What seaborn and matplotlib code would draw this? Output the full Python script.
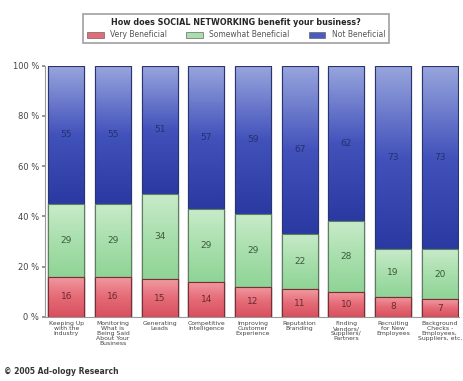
import numpy as np
import pandas as pd
import matplotlib
matplotlib.use("Agg")
import matplotlib.pyplot as plt
from matplotlib.colors import LinearSegmentedColormap
from matplotlib.patches import Patch
import seaborn as sns

categories = [
    "Keeping Up\nwith the\nIndustry",
    "Monitoring\nWhat is\nBeing Said\nAbout Your\nBusiness",
    "Generating\nLeads",
    "Competitive\nIntelligence",
    "Improving\nCustomer\nExperience",
    "Reputation\nBranding",
    "Finding\nVendors/\nSuppliers/\nPartners",
    "Recruiting\nfor New\nEmployees",
    "Background\nChecks -\nEmployees,\nSuppliers, etc.",
]
very = [16, 16, 15, 14, 12, 11, 10, 8, 7]
somewhat = [29, 29, 34, 29, 29, 22, 28, 19, 20]
not_ben = [55, 55, 51, 57, 59, 67, 62, 73, 73]
series_names = ["Very Beneficial", "Somewhat Beneficial", "Not Beneficial"]
y_ticks = [0, 20, 40, 60, 80, 100]
title = "How does SOCIAL NETWORKING benefit your business?"
credit = "\u00a9 2005 Ad-ology Research"

sns.set_theme(style="white")
plt.rcParams["font.family"] = ["DejaVu Sans"]

df = pd.DataFrame({"cat": categories, "very": very, "somewhat": somewhat, "not": not_ben})
df["c1"] = df["very"]
df["c2"] = df["very"] + df["somewhat"]
df["c3"] = df["c2"] + df["not"]

fig = plt.figure(figsize=(4.63, 3.81), dpi=100)
ax = fig.add_axes([0.097, 0.168, 0.895, 0.66])

# gradient colour ramps (bottom -> top) and edge colours per layer
layers = [
    ("c3", "c2", ["#2b3aa2", "#4252bb", "#98a5dd"], "#2a3470", "#25306e"),
    ("c2", "c1", ["#8fd496", "#a9dfad", "#c8ebc9"], "#5d7f5e", "#3d5a3e"),
    ("c1", None, ["#d9505f", "#e56b77", "#f19aa1"], "#7a2f36", "#6a2a30"),
]

width = 0.77
for z, (top_col, low_col, ramp, edge, txt) in enumerate(layers):
    n_before = len(ax.patches)
    sns.barplot(data=df, x="cat", y=top_col, color=ramp[1], width=width,
                edgecolor=edge, linewidth=0.8, saturation=1, ax=ax, zorder=2 + 2 * z)
    cmap = LinearSegmentedColormap.from_list("ramp%d" % z, ramp)
    grad = np.linspace(0, 1, 64).reshape(-1, 1)
    for i, p in enumerate(ax.patches[n_before:]):
        x0 = p.get_x()
        w = p.get_width()
        top = df[top_col].iloc[i]
        low = df[low_col].iloc[i] if low_col else 0
        im = ax.imshow(grad, cmap=cmap, origin="lower", aspect="auto",
                       extent=[x0, x0 + w, low, top], zorder=2 + 2 * z + 0.5)
        im.set_clip_path(p)
        # outline on top of the gradient
        ax.add_patch(plt.Rectangle((x0, 0), w, top, facecolor="none",
                                   edgecolor=edge, linewidth=0.8,
                                   zorder=2 + 2 * z + 0.6))
        seg = top - low
        ax.text(x0 + w / 2, low + seg / 2, f"{int(round(seg))}", ha="center",
                va="center", fontsize=6.5, color=txt, zorder=10)

ax.set_xlim(-0.457, 8.42)
ax.set_ylim(0, 100)
ax.set_yticks(y_ticks)
ax.set_yticklabels([f"{t} %" for t in y_ticks], fontsize=6, color="#444444")
ax.set_xticks(range(len(categories)))
ax.set_xticklabels(categories, fontsize=4.4, color="#444444", linespacing=1.0,
                   va="top")
ax.tick_params(axis="x", length=0, pad=3)
ax.tick_params(axis="y", length=2, pad=2, color="#888888", left=True)
ax.set_xlabel("")
ax.set_ylabel("")
for s in ["top", "right"]:
    ax.spines[s].set_visible(False)
for s in ["left", "bottom"]:
    ax.spines[s].set_color("#999999")
    ax.spines[s].set_linewidth(0.8)

handles = [Patch(facecolor=c, edgecolor="#666666", linewidth=0.5)
           for c in ["#e56b77", "#a9dfad", "#4a5cc0"]]
leg = fig.legend(handles, series_names, loc="center", bbox_to_anchor=(0.51, 0.925),
                 ncol=3, fontsize=5.5, title=title,
                 title_fontproperties={"weight": "bold", "size": 5.8},
                 frameon=True, fancybox=False, edgecolor="#888888",
                 handlelength=2.2, handleheight=0.9, columnspacing=2.5,
                 borderpad=0.5, labelcolor="#555555")
leg.get_frame().set_linewidth(1.2)

fig.text(0.008, 0.012, credit, fontsize=5.5, fontweight="bold", color="#333333",
         ha="left", va="bottom")

fig.savefig("out.png", dpi=100, facecolor="white")
